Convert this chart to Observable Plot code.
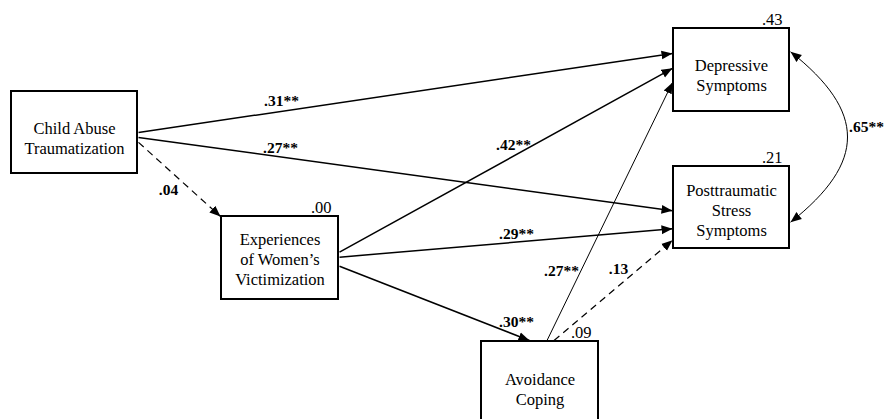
<!DOCTYPE html>
<html>
<head>
<meta charset="utf-8">
<script src="https://cdn.jsdelivr.net/npm/d3@7"></script>
<script src="https://cdn.jsdelivr.net/npm/@observablehq/plot@0.6"></script>
<style>
  html, body { margin: 0; padding: 0; background: #fff; }
  #chart svg { display: block; }
</style>
</head>
<body>
<div id="chart"></div>
<script>
// ---- data: variables of the path model ----
const nodeIds    = ["cat", "ewv", "avc", "dep", "pts"];
const nodeLabels = ["Child Abuse\nTraumatization", "Experiences\nof Women’s\nVictimization",
                    "Avoidance\nCoping", "Depressive\nSymptoms", "Posttraumatic\nStress\nSymptoms"];
const rSquared   = [null, ".00", ".09", ".43", ".21"];

// ---- data: directed paths (standardized coefficients) ----
const pathFrom = ["cat", "cat", "cat", "ewv", "ewv", "ewv", "avc", "avc"];
const pathTo   = ["dep", "pts", "ewv", "dep", "pts", "avc", "dep", "pts"];
const pathCoef = [".31", ".27", ".04", ".42", ".29", ".30", ".27", ".13"];
const pathSig  = [true,  true,  false, true,  true,  true,  true,  false];

// ---- data: residual covariance ----
const covFrom = "dep", covTo = "pts", covCoef = ".65", covSig = true;

// ---- layout (diagram geometry, not data) ----
const boxLayout = {           // x1, x2, y1, y2, text centre y
  cat: [11, 137, 91, 173, 137],
  ewv: [221, 338, 216, 299, 258],
  avc: [481, 598, 341, 424, 388],
  dep: [673, 789, 28, 111, 74],
  pts: [673, 789, 166, 248, 209]
};
// anchors: [side, fraction] for start and end of each path
const pathAnchors = [
  [["r", 0.50], ["l", 0.30]],
  [["r", 0.56], ["l", 0.54]],
  [["r", 0.62], ["l", 0.00]],
  [["r", 0.43], ["l", 0.48]],
  [["r", 0.49], ["l", 0.76]],
  [["r", 0.60], ["t", 0.41]],
  [["t", 0.56], ["l", 0.65]],
  [["t", 0.62], ["l", 0.90]]
];
const pathLabelPos = [[281, 101], [280, 148], [168, 190], [513, 145], [516, 234], [516, 322], [561, 271], [618, 269]];
const pathWidth = [1.5, 1.5, 1.2, 1.5, 1.5, 1.5, 1, 1.2];
const covAnchors = [["r", 0.28], ["r", 0.68]];
const covLabelPos = [866, 127];

function anchor(id, [side, t]) {
  const [x1, x2, y1, y2] = boxLayout[id];
  if (side === "r") return [x2 + 1, y1 + t * (y2 - y1)];
  if (side === "l") return [x1 - 1, y1 + t * (y2 - y1)];
  return [x1 + t * (x2 - x1), y1 - 1];
}

const nodes = nodeIds.map((id, i) => {
  const [x1, x2, y1, y2, ty] = boxLayout[id];
  return {id, label: nodeLabels[i], r2: rSquared[i], x1, x2, y1, y2, cx: (x1 + x2) / 2, ty};
});

const paths = pathFrom.map((f, i) => {
  const [sx, sy] = anchor(f, pathAnchors[i][0]);
  const [ex, ey] = anchor(pathTo[i], pathAnchors[i][1]);
  return {sx, sy, ex, ey, sig: pathSig[i], w: pathWidth[i],
          text: pathCoef[i] + (pathSig[i] ? "**" : ""), lx: pathLabelPos[i][0], ly: pathLabelPos[i][1]};
});

const [cs, ce] = [anchor(covFrom, covAnchors[0]), anchor(covTo, covAnchors[1])];
const cov = [{sx: cs[0], sy: cs[1], ex: ce[0], ey: ce[1], text: covCoef + (covSig ? "**" : ""),
              lx: covLabelPos[0], ly: covLabelPos[1]}];

// custom curve that bows a two-point link out to the right
function bulgeCurve(context) {
  let pts = [];
  return {
    areaStart() {}, areaEnd() {},
    lineStart() { pts = []; },
    point(x, y) { pts.push([x, y]); },
    lineEnd() {
      const [a, b] = pts;
      context.moveTo(a[0], a[1]);
      context.bezierCurveTo(a[0] + 76, a[1] + 60, b[0] + 76, b[1] - 60, b[0], b[1]);
    }
  };
}

const serif = "Liberation Serif";

const plot = Plot.plot({
  width: 886,
  height: 419,
  margin: 0,
  x: {domain: [0, 886], range: [0, 886], axis: null},
  y: {domain: [0, 419], range: [0, 419], axis: null},
  style: {background: "white", fontFamily: "Liberation Serif"},
  marks: [
    Plot.rect(nodes, {x1: "x1", x2: "x2", y1: "y1", y2: "y2", fill: "white", stroke: "black", strokeWidth: 2}),
    Plot.link(paths.filter(d => d.sig), {x1: "sx", y1: "sy", x2: "ex", y2: "ey", stroke: "black",
      strokeWidth: "w", markerEnd: "arrow"}),
    Plot.link(paths.filter(d => !d.sig), {x1: "sx", y1: "sy", x2: "ex", y2: "ey", stroke: "black",
      strokeWidth: "w", strokeDasharray: "7,5", markerEnd: "arrow"}),
    Plot.link(cov, {x1: "sx", y1: "sy", x2: "ex", y2: "ey", stroke: "black", strokeWidth: 1,
      curve: bulgeCurve, markerStart: "arrow", markerEnd: "arrow"}),
    Plot.text(nodes, {x: "cx", y: "ty", text: "label", fontFamily: serif, fontSize: 16.5,
      lineHeight: 1.22, fill: "black"}),
    Plot.text(nodes.filter(d => d.r2), {x: d => d.x2 - 7, y: d => d.y1 - 9, text: "r2",
      textAnchor: "end", fontFamily: serif, fontSize: 16.5, fill: "black"}),
    Plot.text(paths, {x: "lx", y: "ly", text: "text", fontFamily: serif, fontSize: 15.5,
      fontWeight: "bold", fill: "black"}),
    Plot.text(cov, {x: "lx", y: "ly", text: "text", fontFamily: serif, fontSize: 15.5,
      fontWeight: "bold", fill: "black"})
  ]
});

// filled triangular arrowheads
const svg = d3.select(plot);
const defs = svg.append("defs");
defs.append("marker")
  .attr("id", "filled-head")
  .attr("viewBox", "0 -5 10 10")
  .attr("refX", 10).attr("refY", 0)
  .attr("markerUnits", "userSpaceOnUse")
  .attr("markerWidth", 11).attr("markerHeight", 11)
  .attr("orient", "auto-start-reverse")
  .append("path").attr("d", "M0,-4L10,0L0,4Z").attr("fill", "black").attr("stroke", "none");
svg.selectAll("[marker-end]").attr("marker-end", "url(#filled-head)");
svg.selectAll("[marker-start]").attr("marker-start", "url(#filled-head)");

document.getElementById("chart").append(plot);
</script>
</body>
</html>
